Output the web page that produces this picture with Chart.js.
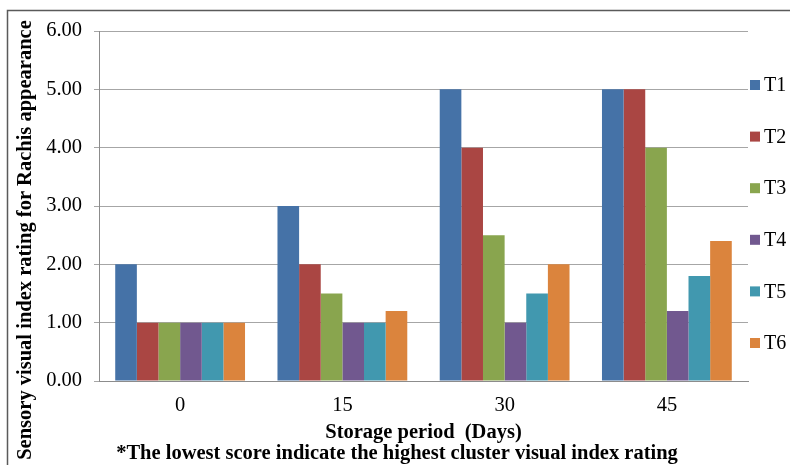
<!DOCTYPE html>
<html>
<head>
<meta charset="utf-8">
<script src="https://cdn.jsdelivr.net/npm/chart.js@4.4.0/dist/chart.umd.min.js"></script>
<style>
  html, body { margin: 0; padding: 0; background: #fff; }
  #wrap { width: 790px; height: 465px; position: relative; }
</style>
</head>
<body>
<div id="wrap"><canvas id="c" width="790" height="465"></canvas></div>
<script>
// Storage days on the x axis
const storageDays = ['0', '15', '30', '45'];
// Treatment series names
const treatments = ['T1', 'T2', 'T3', 'T4', 'T5', 'T6'];
// Rachis appearance scores per treatment at each storage day
const T1 = [2.0, 3.0, 5.0, 5.0];
const T2 = [1.0, 2.0, 4.0, 5.0];
const T3 = [1.0, 1.5, 2.5, 4.0];
const T4 = [1.0, 1.0, 1.0, 1.2];
const T5 = [1.0, 1.0, 1.5, 1.8];
const T6 = [1.0, 1.2, 2.0, 2.4];
const seriesValues = [T1, T2, T3, T4, T5, T6];
const seriesColors = ['#4572A7', '#AA4643', '#89A54E', '#71588F', '#4198AF', '#DB843D'];
const yTitle = 'Sensory visual index rating for Rachis appearance';
const xTitle = 'Storage period  (Days)';
const footnote = '*The lowest score indicate the highest cluster visual index rating';

const serif = "'Liberation Serif', 'Times New Roman', serif";
const FS = 20.5;

// Outer frame, rotated y title, footnote and the side legend
const decorations = {
  id: 'decorations',
  beforeDraw(chart) {
    const ctx = chart.ctx;
    ctx.save();
    ctx.strokeStyle = '#5a5a5a';
    ctx.lineWidth = 1.5;
    ctx.strokeRect(7.5, 10.5, 900, 600);
    ctx.restore();
  },
  afterDraw(chart) {
    const ctx = chart.ctx;
    ctx.save();
    ctx.fillStyle = '#000';
    ctx.font = "bold " + FS + "px " + serif;
    ctx.textAlign = 'center';
    ctx.textBaseline = 'middle';
    ctx.fillText(footnote, 397, 454);
    ctx.translate(26, 240);
    ctx.rotate(-Math.PI / 2);
    ctx.fillText(yTitle, 0, 0);
    ctx.restore();

    ctx.save();
    ctx.font = "20px " + serif;
    ctx.textBaseline = 'middle';
    chart.data.datasets.forEach((ds, i) => {
      const y = 85 + i * 51.6;
      ctx.fillStyle = ds.backgroundColor;
      ctx.fillRect(750, y - 5, 10, 10);
      ctx.fillStyle = '#000';
      ctx.fillText(ds.label, 764, y + 1);
    });
    ctx.restore();
  }
};

new Chart(document.getElementById('c'), {
  type: 'bar',
  data: {
    labels: storageDays,
    datasets: treatments.map((name, i) => ({
      label: name,
      data: seriesValues[i],
      backgroundColor: seriesColors[i],
      borderWidth: 0,
      categoryPercentage: 0.8,
      barPercentage: 1.0
    }))
  },
  options: {
    responsive: false,
    animation: false,
    layout: { padding: { left: 0, right: 42, top: 31, bottom: 22.5 } },
    plugins: {
      legend: { display: false },
      tooltip: { enabled: false },
      title: { display: false }
    },
    scales: {
      x: {
        grid: { display: false, drawTicks: false },
        border: { display: true, color: '#8c8c8c', width: 1 },
        ticks: { color: '#000', font: { family: serif, size: FS, lineHeight: 1 }, padding: 14 },
        title: {
          display: true,
          text: xTitle,
          color: '#000',
          font: { family: serif, size: FS, weight: 'bold', lineHeight: 1 },
          padding: { top: 5, bottom: 0 }
        },
        afterFit(scale) { scale.height = 61.5; }
      },
      y: {
        min: 0,
        max: 6,
        ticks: {
          stepSize: 1,
          color: '#000',
          font: { family: serif, size: FS },
          padding: 12,
          callback: v => Number(v).toFixed(2)
        },
        grid: { color: '#a6a6a6', lineWidth: 1, tickLength: 5, drawTicks: true },
        border: { display: true, color: '#8c8c8c', width: 1 },
        afterFit(scale) { scale.width = 99; }
      }
    }
  },
  plugins: [decorations]
});
</script>
</body>
</html>
